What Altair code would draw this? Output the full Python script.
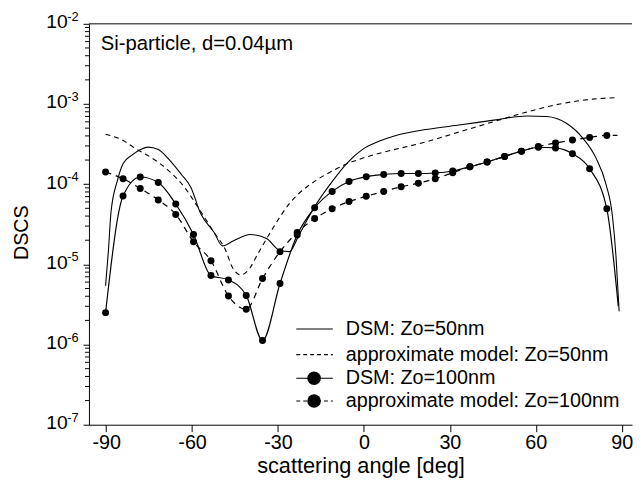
import altair as alt
import pandas as pd

FONT = "Liberation Sans"

# ---------------- data ----------------
# DSM: Zo=50nm (thin solid line)
dsm50_deg = [-90.2, -89.2, -88.3, -86.1, -84.1, -81.0, -78.0, -75.3, -71.8, -68.4,
             -63.8, -60.4, -57.0, -52.3, -49.4, -45.5, -39.7, -34.0, -29.6, -26.0,
             -23.0, -20.0, -17.4, -10.9, -6.3, -0.6, 5.2, 10.9, 22.4, 33.9,
             45.4, 56.9, 63.8, 70.7, 76.4, 81.0, 84.5, 86.8, 88.0, 89.1]
dsm50_val = [5.4e-6, 1.5e-5, 4.5e-5, 1.1e-4, 1.8e-4, 2.3e-4, 2.7e-4, 2.9e-4, 2.7e-4, 2.1e-4,
             1.33e-4, 9.1e-5, 4.3e-5, 2.5e-5, 1.7e-5, 1.97e-5, 2.36e-5, 2.1e-5, 1.51e-5, 1.44e-5,
             2.2e-5, 3.5e-5, 5.1e-5, 1.1e-4, 1.77e-4, 2.7e-4, 3.42e-4, 4.02e-4, 4.85e-4, 5.5e-4,
             6.3e-4, 7.1e-4, 7.0e-4, 5.75e-4, 3.76e-4, 2.13e-4, 1.0e-4, 3.9e-5, 1.26e-5, 2.6e-6]

# approximate model: Zo=50nm (thin dashed line)
approx50_deg = [-90.2, -84.0, -79.9, -74.1, -68.4, -62.6, -58.0, -52.3, -48.3, -46.0,
                -43.1, -40.0, -37.3, -31.6, -25.9, -17.8, -12.0, -6.3, -0.6, 22.3,
                33.9, 45.4, 56.6, 68.4, 79.8, 87.8]
approx50_val = [4.2e-4, 3.5e-4, 2.8e-4, 2.13e-4, 1.5e-4, 9.1e-5, 5.2e-5, 2.5e-5, 1.5e-5, 9.3e-6,
                7.4e-6, 8.8e-6, 1.3e-5, 2.9e-5, 5.8e-5, 1.05e-4, 1.4e-4, 1.77e-4, 2.1e-4, 3.42e-4,
                4.55e-4, 6.04e-4, 7.9e-4, 1.0e-3, 1.15e-3, 1.2e-3]

# symbol series (Zo=100nm), common angles
marker_deg = [-90.2, -84.1, -78.1, -71.8, -65.7, -59.5, -53.4, -47.3, -41.1, -35.4,
              -29.3, -23.3, -17.2, -11.1, -5.2, 0.8, 6.9, 13.0, 19.0, 24.9,
              31.0, 37.0, 43.0, 49.1, 55.0, 60.9, 66.9, 72.8, 78.8, 84.8]
dsm100_val = [2.5e-6, 7.1e-5, 1.23e-4, 1.05e-4, 5.66e-5, 2.36e-5, 7.24e-6, 6.4e-6, 4.1e-6, 1.12e-6,
              5.77e-6, 2.32e-5, 5.08e-5, 8.13e-5, 1.08e-4, 1.24e-4, 1.32e-4, 1.36e-4, 1.36e-4, 1.38e-4,
              1.46e-4, 1.65e-4, 1.89e-4, 2.22e-4, 2.58e-4, 2.89e-4, 2.83e-4, 2.39e-4, 1.56e-4, 4.93e-5]
approx100_val = [1.42e-4, 1.17e-4, 8.85e-5, 6.37e-5, 4.2e-5, 1.91e-5, 1.11e-5, 4.03e-6, 2.76e-6, 6.65e-6,
                 1.44e-5, 2.5e-5, 3.72e-5, 4.93e-5, 6.07e-5, 7.06e-5, 8.13e-5, 9.29e-5, 1.03e-4, 1.17e-4,
                 1.39e-4, 1.65e-4, 1.89e-4, 2.22e-4, 2.58e-4, 2.95e-4, 3.27e-4, 3.55e-4, 3.83e-4, 4.06e-4]
# line continuation after the last symbol
dsm100_tail_deg = [88.8]
dsm100_tail_val = [3.0e-6]
approx100_tail_deg = [88.5]
approx100_tail_val = [4.06e-4]

x_ticks = [-90, -60, -30, 0, 30, 60, 90]
y_ticks = [1e-7, 1e-6, 1e-5, 1e-4, 1e-3, 1e-2]
y_exp = ["-7", "-6", "-5", "-4", "-3", "-2"]
minor_ticks = [m * 10.0 ** k for k in range(-7, -2) for m in range(2, 10)]

legend_labels = ["DSM: Zo=50nm", "approximate model: Zo=50nm",
                 "DSM: Zo=100nm", "approximate model: Zo=100nm"]
annotation = "Si-particle, d=0.04µm"

# ---------------- chart ----------------
W, H = 550, 406
xs = alt.Scale(domain=[-96, 93.6], nice=False, zero=False)
ys = alt.Scale(type="log", domain=[1e-7, 1e-2], nice=False)

x_axis = alt.Axis(values=x_ticks, labelExpr="'' + datum.value", grid=False,
                  tickSize=7, tickColor="black", domainColor="black",
                  labelColor="black", labelFont=FONT, labelFontSize=20, labelPadding=1,
                  labelFlush=False, title="scattering angle [deg]", titleFont=FONT,
                  titleFontSize=22, titleFontWeight="normal", titleColor="black",
                  titleY=41, titleBaseline="middle")
y_axis = alt.Axis(values=y_ticks, labelExpr="'10'", grid=False, tickSize=6,
                  tickColor="black", domainColor="black", labelColor="black",
                  labelFont=FONT, labelFontSize=19.5, labelPadding=16, labelOffset=-2,
                  labelBaseline="middle", labelFlush=False, labelOverlap=False,
                  title="DSCS", titleFont=FONT, titleFontSize=20, titleFontWeight="normal",
                  titleColor="black", titleX=-68, titleY=211, titleAngle=270,
                  titleAlign="center", titleBaseline="middle")

df50 = pd.DataFrame({"deg": dsm50_deg, "val": dsm50_val})
dfa50 = pd.DataFrame({"deg": approx50_deg, "val": approx50_val})
df100_pts = pd.DataFrame({"deg": marker_deg, "val": dsm100_val})
dfa100_pts = pd.DataFrame({"deg": marker_deg, "val": approx100_val})
df100_line = pd.DataFrame({"deg": marker_deg + dsm100_tail_deg, "val": dsm100_val + dsm100_tail_val})
dfa100_line = pd.DataFrame({"deg": marker_deg + approx100_tail_deg,
                            "val": approx100_val + approx100_tail_val})


def enc(chart):
    return chart.encode(
        x=alt.X("deg:Q", scale=xs, axis=x_axis),
        y=alt.Y("val:Q", scale=ys, axis=y_axis),
    )


l_dsm50 = enc(alt.Chart(df50).mark_line(color="black", strokeWidth=1.1,
                                        interpolate="monotone"))
l_a50 = enc(alt.Chart(dfa50).mark_line(color="black", strokeWidth=1.1,
                                       strokeDash=[5, 4], interpolate="monotone"))
l_dsm100 = enc(alt.Chart(df100_line).mark_line(color="black", strokeWidth=1.2,
                                               interpolate="monotone"))
l_a100 = enc(alt.Chart(dfa100_line).mark_line(color="black", strokeWidth=1.2,
                                              strokeDash=[6, 5], interpolate="monotone"))
p_dsm100 = enc(alt.Chart(df100_pts).mark_circle(color="black", size=50, opacity=1))
p_a100 = enc(alt.Chart(dfa100_pts).mark_circle(color="black", size=50, opacity=1))

exps = alt.Chart(pd.DataFrame({"val": y_ticks, "e": y_exp})).mark_text(
    align="left", baseline="middle", dy=-7, fontSize=13, font=FONT, color="black"
).encode(x=alt.value(-22), y=alt.Y("val:Q", scale=ys, axis=y_axis), text="e:N")

minor = alt.Chart(pd.DataFrame({"val": minor_ticks})).mark_rule(
    color="black", strokeWidth=1
).encode(x=alt.value(-4), x2=alt.value(0), y=alt.Y("val:Q", scale=ys, axis=y_axis))

one = pd.DataFrame({"a": [0]})
top_frame = alt.Chart(one).mark_rule(color="black", strokeWidth=1).encode(
    x=alt.value(0), x2=alt.value(W), y=alt.value(0))

note = alt.Chart(one).mark_text(align="left", baseline="alphabetic", fontSize=20.5,
                                font=FONT, color="black").encode(
    x=alt.value(12), y=alt.value(27), text=alt.value(annotation))

# legend
rows = [309, 335, 359, 382]
LX1, LX2, LXM, LXT = 210, 247, 228, 260
leg = []
for i, (ry, lab) in enumerate(zip(rows, legend_labels)):
    dash = [4, 3] if i in (1, 3) else [1, 0]
    leg.append(alt.Chart(one).mark_rule(color="black", strokeWidth=1.1, strokeDash=dash).encode(
        x=alt.value(LX1), x2=alt.value(LX2), y=alt.value(ry)))
    if i >= 2:
        leg.append(alt.Chart(one).mark_point(filled=True, shape="circle", size=190,
                                             color="black", opacity=1).encode(
            x=alt.value(LXM), y=alt.value(ry)))
    leg.append(alt.Chart(one).mark_text(align="left", baseline="middle", fontSize=20,
                                        font=FONT, color="black").encode(
        x=alt.value(LXT), y=alt.value(ry), text=alt.value(lab)))

chart = alt.layer(
    l_dsm50, l_a50, l_dsm100, l_a100, p_dsm100, p_a100,
    minor, exps, top_frame, note, *leg
).properties(
    width=W, height=H,
    autosize=alt.AutoSizeParams(type="none"),
    padding={"left": 82, "top": 13, "right": 2, "bottom": 56},
).configure_view(stroke=None)

chart.save("out.html", embed_options={"renderer": "svg", "actions": False})
